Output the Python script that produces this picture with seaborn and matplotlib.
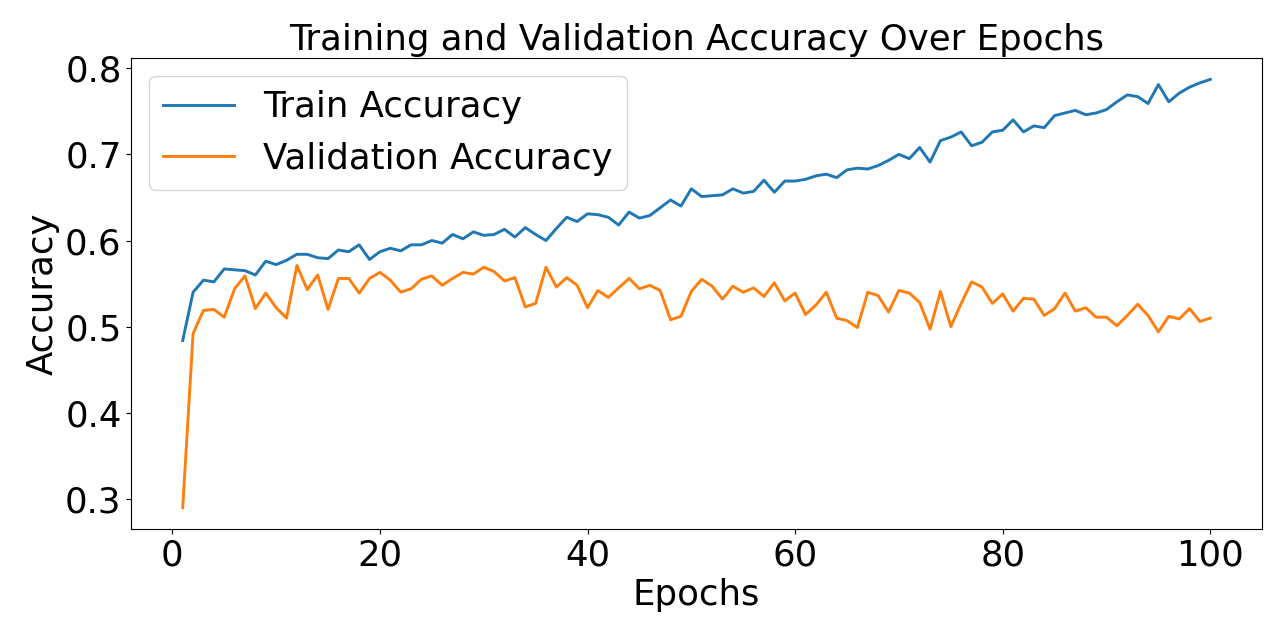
import numpy as np
import pandas as pd
import seaborn as sns
import matplotlib
matplotlib.use('Agg')
import matplotlib.pyplot as plt

# -- values ----
epochs = list(range(1, 101))
train_acc = [0.484, 0.540, 0.554, 0.552, 0.567, 0.566, 0.565, 0.560, 0.576, 0.572,
             0.577, 0.584, 0.584, 0.580, 0.579, 0.589, 0.587, 0.595, 0.578, 0.587,
             0.591, 0.588, 0.595, 0.595, 0.600, 0.597, 0.607, 0.602, 0.610, 0.606,
             0.607, 0.613, 0.604, 0.615, 0.607, 0.600, 0.614, 0.627, 0.622, 0.631,
             0.630, 0.627, 0.618, 0.633, 0.626, 0.629, 0.638, 0.647, 0.640, 0.660,
             0.651, 0.652, 0.653, 0.660, 0.655, 0.657, 0.670, 0.656, 0.669, 0.669,
             0.671, 0.675, 0.677, 0.673, 0.682, 0.684, 0.683, 0.687, 0.693, 0.700,
             0.695, 0.708, 0.691, 0.716, 0.720, 0.726, 0.710, 0.714, 0.726, 0.728,
             0.740, 0.726, 0.733, 0.731, 0.745, 0.748, 0.751, 0.746, 0.748, 0.752,
             0.761, 0.769, 0.767, 0.759, 0.781, 0.761, 0.771, 0.778, 0.783, 0.787]
val_acc = [0.290, 0.492, 0.519, 0.520, 0.511, 0.544, 0.559, 0.521, 0.539, 0.522,
           0.510, 0.571, 0.543, 0.560, 0.520, 0.556, 0.556, 0.539, 0.556, 0.563,
           0.554, 0.540, 0.544, 0.555, 0.559, 0.548, 0.556, 0.563, 0.561, 0.569,
           0.564, 0.553, 0.557, 0.523, 0.527, 0.569, 0.546, 0.557, 0.548, 0.522,
           0.542, 0.534, 0.545, 0.556, 0.544, 0.548, 0.542, 0.508, 0.512, 0.541,
           0.555, 0.547, 0.532, 0.547, 0.540, 0.545, 0.535, 0.551, 0.530, 0.539,
           0.514, 0.525, 0.540, 0.510, 0.507, 0.499, 0.540, 0.536, 0.517, 0.542,
           0.539, 0.528, 0.497, 0.541, 0.500, 0.527, 0.552, 0.546, 0.527, 0.538,
           0.518, 0.533, 0.532, 0.513, 0.521, 0.539, 0.518, 0.522, 0.511, 0.511,
           0.501, 0.513, 0.526, 0.513, 0.494, 0.512, 0.509, 0.521, 0.506, 0.510]

fs = 25.6  # every text in the reference is about the same size

df = pd.DataFrame({'epoch': epochs, 'train': train_acc, 'val': val_acc})

fig = plt.figure(figsize=(12.8, 6.4), dpi=100)
ax = fig.add_subplot(111)
sns.lineplot(data=df, x='epoch', y='train', ax=ax, color='#1f77b4', linewidth=2.1, label='Train Accuracy')
sns.lineplot(data=df, x='epoch', y='val', ax=ax, color='#ff7f0e', linewidth=2.1, label='Validation Accuracy')

ax.set_title('Training and Validation Accuracy Over Epochs', fontsize=fs)
ax.set_xlabel('Epochs', fontsize=fs)
ax.set_ylabel('Accuracy', fontsize=fs)
ax.tick_params(axis='both', which='major', labelsize=fs)
ax.legend(loc='upper left', fontsize=fs)

fig.subplots_adjust(left=0.1026, right=0.9857, top=0.9094, bottom=0.1734)
plt.savefig('out.png', dpi=100)
